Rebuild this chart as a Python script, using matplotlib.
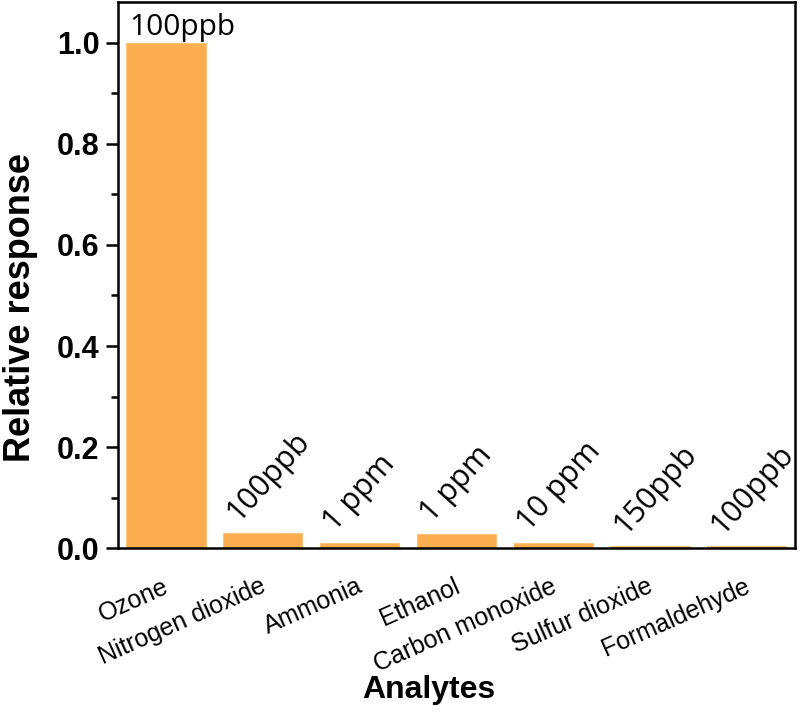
import matplotlib.pyplot as plt
import matplotlib.transforms as mtransforms
from matplotlib.ticker import MultipleLocator

analytes = ['Ozone', 'Nitrogen dioxide', 'Ammonia', 'Ethanol',
            'Carbon monoxide', 'Sulfur dioxide', 'Formaldehyde']
response = [1.0, 0.030, 0.010, 0.028, 0.010, 0.005, 0.005]
conc = ['100ppb', '100ppb', '1 ppm', '1 ppm', '10 ppm', '150ppb', '100ppb']

fig = plt.figure(figsize=(8, 7.13), dpi=100)
ax = fig.add_axes([0.147, 0.231, 0.847, 0.766])

x = list(range(len(analytes)))
ax.bar(x, response, width=0.82, color='#FDAE50', edgecolor='#FDC27A', linewidth=0.8)

# concentration labels
ax.text(-0.38, response[0] + 0.002, conc[0], fontsize=21.5, family='Open Sans',
        ha='left', va='bottom')
for i in range(1, len(analytes)):
    ax.text(i - 0.2, response[i] + 0.012, conc[i], fontsize=22, family='Open Sans',
            rotation=48, rotation_mode='anchor', ha='left', va='bottom')

ax.set_xlim(-0.5, 6.5)
ax.set_ylim(0, 1.08)
ax.yaxis.set_major_locator(MultipleLocator(0.2))
ax.yaxis.set_minor_locator(MultipleLocator(0.1))
ax.tick_params(axis='y', which='major', length=9, width=1.8, direction='out', pad=4)
ax.tick_params(axis='y', which='minor', length=5, width=1.8, direction='out')
ax.tick_params(axis='x', length=0, pad=10)

ax.set_xticks(x)
ax.set_xticklabels(analytes, rotation=24, ha='right', rotation_mode='anchor',
                   fontsize=18, family='Liberation Sans')
shift = mtransforms.ScaledTranslation(-0.03, -0.12, fig.dpi_scale_trans)
for lab in ax.get_xticklabels():
    lab.set_transform(lab.get_transform() + shift)
for lab in ax.get_yticklabels():
    lab.set_fontweight('bold')
    lab.set_fontsize(22)
    lab.set_family('Liberation Sans')

for s in ax.spines.values():
    s.set_linewidth(1.8)

ax.set_ylabel('Relative response', fontsize=26, fontweight='bold',
              family='Liberation Sans')
ax.yaxis.set_label_coords(-0.118, 0.44)
ax.set_xlabel('Analytes', fontsize=23, fontweight='bold',
              family='Liberation Sans')
ax.xaxis.set_label_coords(0.459, -0.232)

fig.savefig('out.png', dpi=100)
